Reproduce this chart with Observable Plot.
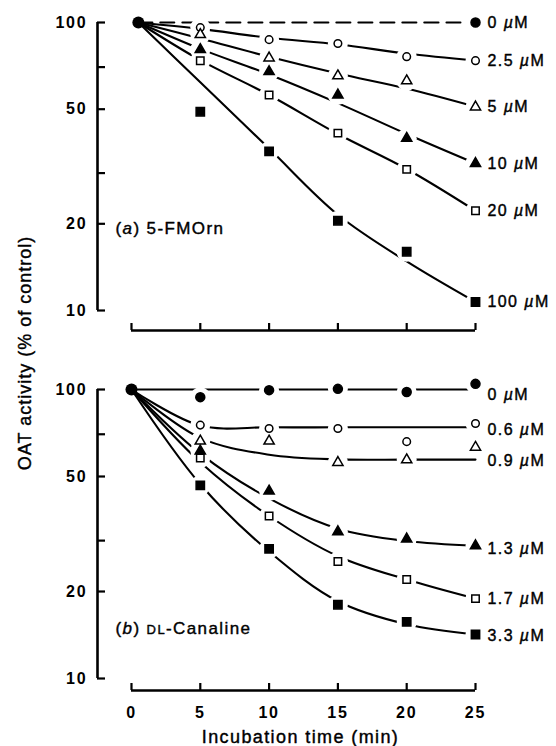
<!DOCTYPE html>
<html><head><meta charset="utf-8">
<script src="https://cdn.jsdelivr.net/npm/d3@7"></script>
<script src="https://cdn.jsdelivr.net/npm/@observablehq/plot@0.6"></script>
<style>
body{margin:0;background:#fff;}
#chart{position:relative;width:556px;height:746px;font-family:"Liberation Sans",Arial,Helvetica,sans-serif;color:#000;}
#chart svg{display:block;}
#chart text{letter-spacing:1.4px;}
#chart g[aria-label="y-axis tick label"] text,#chart g[aria-label="x-axis tick label"] text{letter-spacing:1.8px;font-weight:bold;}
.ylab{position:absolute;left:25px;top:353px;transform:translate(-50%,-50%) rotate(-90deg);white-space:nowrap;font-size:18px;letter-spacing:1px;-webkit-text-stroke:0.4px #000;}
</style></head><body><div id="chart"><div class="ylab">OAT activity (% of control)</div></div>
<script>
// ---- data ----
const times = [5, 10, 15, 20, 25];
const fitTimesA = [0.5, 5, 10, 15, 20, 25];
const fitTimesB = [0, 5, 10, 15, 20, 25];
const startTimeA = 0.5, startTimeB = 0, startValue = 100;
const xTicks = [0, 5, 10, 15, 20, 25];
const yTicks = [10, 20, 30, 50, 70, 100];
const yTickLabels = [10, 20, 50, 100];

// (a) 5-FMOrn
const concA = ["0 µM", "2.5 µM", "5 µM", "10 µM", "20 µM", "100 µM"];
const markA_0   = [null, null, null, null, 100];
const markA_2_5 = [96, 87.2, 84.5, 76.1, 73.7];
const markA_5   = [90.8, 75.3, 65.3, 62.7, 50.9];
const markA_10  = [80.5, 67.5, 56.0, 39.6, 32.4];
const markA_20  = [73.7, 56.0, 41.3, 30.9, 22.2];
const markA_100 = [49.0, 35.7, 20.5, 16.0, 10.7];
const fitA_0   = [100, 100, 100, 100, 100, 100];
const fitA_2_5 = [100, 95, 88.5, 84, 78, 73.7];
const fitA_5   = [100, 88, 76, 66.5, 59, 51];
const fitA_10  = [100, 81, 66, 52.5, 41, 32.4];
const fitA_20  = [100, 74, 56, 41, 31, 22.2];
const fitA_100 = [100, 62, 36.5, 21.5, 14.8, 10.7];
const labelYA  = [100, 73.7, 50.9, 32.4, 22.2, 10.7];

// (b) DL-Canaline
const concB = ["0 µM", "0.6 µM", "0.9 µM", "1.3 µM", "1.7 µM", "3.3 µM"];
const markB_0   = [94.1, 99.5, 100.5, 98, 104.6];
const markB_0_6 = [75.3, 73.3, 73.3, 66, 76.3];
const markB_0_9 = [66.3, 66.3, 55.9, 57.1, 63.1];
const markB_1_3 = [61.3, 44.5, 32.2, 30.4, 28.8];
const markB_1_7 = [57.9, 36.5, 25.4, 22.0, 18.9];
const markB_3_3 = [46.6, 28.1, 18.0, 15.7, 14.2];
const fitB_0   = [100, 100, 100, 100, 100, 100];
const fitB_0_6 = [100, 75, 74, 74, 74, 74];
const fitB_0_9 = [100, 68, 59.5, 57.3, 57.2, 57.2];
const fitB_1_3 = [100, 60, 42, 33, 29.9, 28.8];
const fitB_1_7 = [100, 56, 36.5, 26.5, 22, 18.9];
const fitB_3_3 = [100, 47, 27.5, 18.5, 15.4, 14.2];
const labelYB  = [96, 72.3, 56.6, 28, 18.9, 14.0];

const titleA = "(a) 5-FMOrn";
const titleB = "(b) DL-Canaline";
const xTitle = "Incubation time (min)";

// ---- styling ----
const symbols = ["circle", "circle", "triangle", "triangle", "square", "square"];
const filled = [true, false, false, true, false, true];
const xDomain = [-2.47, 25];
const yDomain = [10, 100];
function symR(sym, fill) {
  if (sym === "circle") return fill ? 4.5 : 3.8;
  if (sym === "triangle") return 3.8;
  return fill ? 4.7 : 4.2;
}

function panel(o) {
  const markRows = [], fitRows = [];
  o.conc.forEach((c, i) => {
    times.forEach((t, j) => { if (o.marks[i][j] != null) markRows.push({i, t, v: o.marks[i][j]}); });
    o.fitTimes.forEach((t, j) => fitRows.push({i, t, v: o.fits[i][j]}));
  });
  const last = xTicks[xTicks.length - 1];
  const m = [];
  m.push(Plot.ruleX([xDomain[0]], {stroke: "#000", strokeWidth: 2.6}));
  m.push(Plot.axisY(yTicks, {anchor: "left", label: null, tickSize: -8, tickPadding: 18, strokeWidth: 2.2,
    tickFormat: d => yTickLabels.includes(d) ? String(d) : "", fontSize: 16, fontWeight: "bold"}));
  m.push(Plot.ruleY([yDomain[0]], {x1: xTicks[0], x2: last, dy: o.axisGap, stroke: "#000", strokeWidth: 2.6}));
  m.push(Plot.axisX(xTicks, {anchor: "bottom", label: null, tickSize: -7, dy: o.axisGap, tickPadding: 23, strokeWidth: 2.2,
    tickFormat: o.tickLabels ? (d => String(d)) : (() => ""), fontSize: 16, fontWeight: "bold"}));
  o.conc.forEach((c, i) => {
    m.push(Plot.line(fitRows.filter(d => d.i === i), {x: "t", y: "v", curve: "catmull-rom", stroke: "#000",
      strokeWidth: 2.1, strokeDasharray: (o.dashedZero && i === 0) ? "14,8" : null}));
  });
  m.push(Plot.dot(markRows, {x: "t", y: "v", r: 10, fill: "#fff", stroke: "none"}));
  o.conc.forEach((c, i) => {
    m.push(Plot.dot(markRows.filter(d => d.i === i), {x: "t", y: "v", symbol: () => symbols[i],
      r: symR(symbols[i], filled[i]), fill: filled[i] ? "#000" : "#fff", stroke: "#000", strokeWidth: 1.5}));
  });
  m.push(Plot.dot([{t: o.startTime, v: startValue}], {x: "t", y: "v", r: 6, fill: "#000"}));
  m.push(Plot.text(o.conc.map((c, i) => ({c, t: last, v: o.labelY[i]})),
    {x: "t", y: "v", text: "c", textAnchor: "start", dx: 12, fontSize: 16, fill: "#000", stroke: "#000", strokeWidth: 0.4}));
  m.push(Plot.text([o.title], {text: d => d, frameAnchor: "bottom-left", dx: 18, dy: o.titleDy,
    textAnchor: "start", fontSize: 17, fill: "#000", stroke: "#000", strokeWidth: 0.4}));
  if (o.xTitle) m.push(Plot.text([o.xTitle], {text: d => d, frameAnchor: "bottom", dx: 14, dy: 64,
    fontSize: 18, fill: "#000", stroke: "#000", strokeWidth: 0.4}));
  return Plot.plot({
    width: 556, height: o.height, marginLeft: 97, marginRight: 81,
    marginTop: o.marginTop, marginBottom: o.marginBottom,
    x: {domain: xDomain}, y: {type: "log", domain: yDomain},
    style: {fontFamily: '"Liberation Sans",Arial,sans-serif', color: "#000", background: "#fff", overflow: "visible"},
    marks: m
  });
}

const svgA = panel({conc: concA, marks: [markA_0, markA_2_5, markA_5, markA_10, markA_20, markA_100],
  fits: [fitA_0, fitA_2_5, fitA_5, fitA_10, fitA_20, fitA_100], fitTimes: fitTimesA, startTime: startTimeA,
  labelY: labelYA, height: 345, marginTop: 22, marginBottom: 35, axisGap: 20, tickLabels: false,
  title: titleA, titleDy: -77, dashedZero: true});
const svgB = panel({conc: concB, marks: [markB_0, markB_0_6, markB_0_9, markB_1_3, markB_1_7, markB_3_3],
  fits: [fitB_0, fitB_0_6, fitB_0_9, fitB_1_3, fitB_1_7, fitB_3_3], fitTimes: fitTimesB, startTime: startTimeB,
  labelY: labelYB, height: 401, marginTop: 44, marginBottom: 68, axisGap: 12, tickLabels: true,
  title: titleB, titleDy: -45, dashedZero: false, xTitle});

const chart = document.getElementById("chart");
chart.appendChild(svgA);
chart.appendChild(svgB);

// rich text: italic µ, italic panel letters, small-caps DL
const NS = "http://www.w3.org/2000/svg";
function rich(t, parts) {
  t.textContent = "";
  parts.forEach(([s, st]) => {
    const ts = document.createElementNS(NS, "tspan");
    ts.textContent = s;
    if (st === "i") ts.setAttribute("font-style", "italic");
    if (st === "sc") ts.setAttribute("font-size", "13");
    t.appendChild(ts);
  });
}
chart.querySelectorAll("svg text").forEach(t => {
  if (t.childElementCount) return;
  const s = t.textContent;
  if (s === titleA) rich(t, [["(", ""], ["a", "i"], [") 5-FMOrn", ""]]);
  else if (s === titleB) rich(t, [["(", ""], ["b", "i"], [") ", ""], ["DL", "sc"], ["-Canaline", ""]]);
  else if (s.includes("µ")) {
    const k = s.indexOf("µ");
    rich(t, [[s.slice(0, k), ""], ["µ", "i"], [s.slice(k + 1), ""]]);
  }
});
</script></body></html>
